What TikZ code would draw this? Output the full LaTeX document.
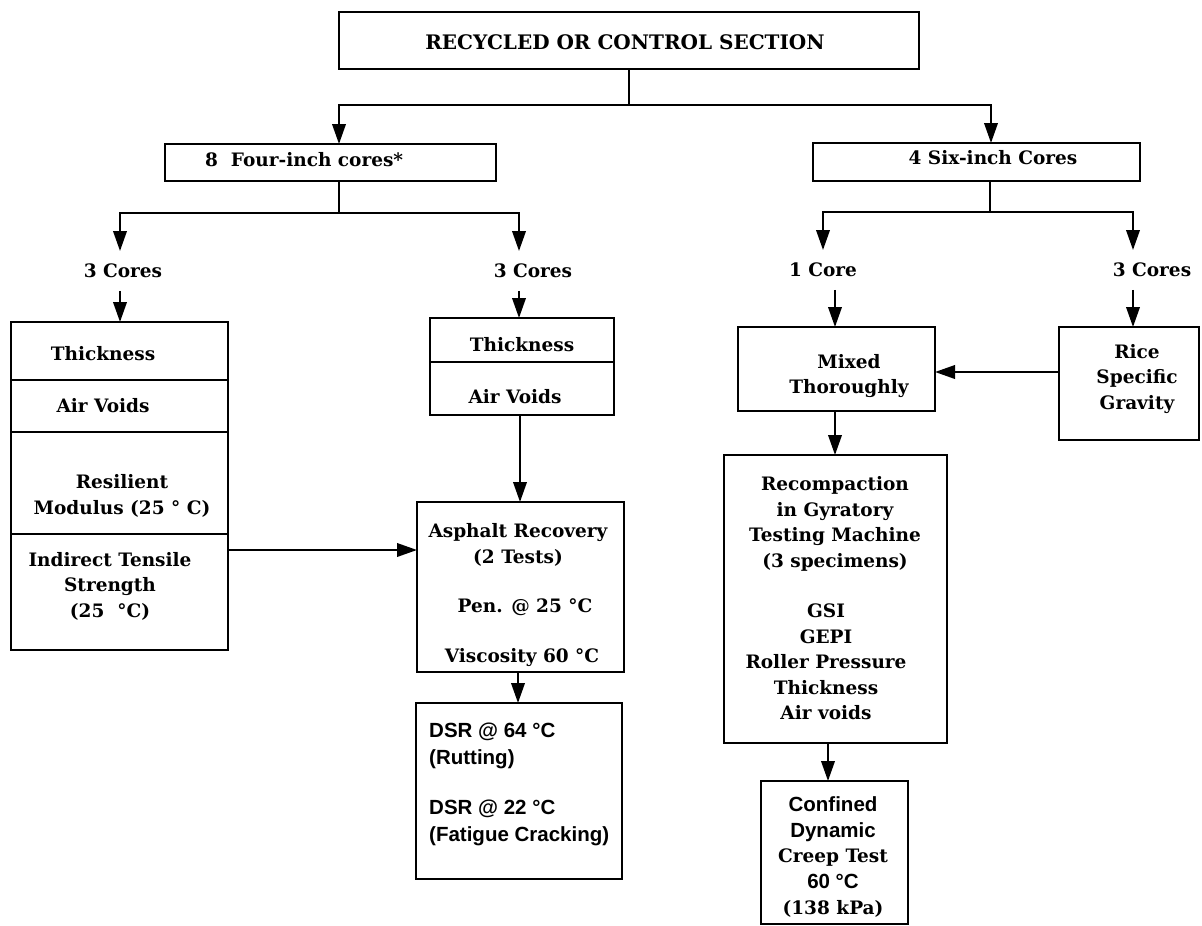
\documentclass[tikz,border=0pt]{standalone}
\usepackage{fontspec}
\setmainfont{DejaVu Serif}
\newfontfamily\sansf{Liberation Sans}
\usetikzlibrary{arrows.meta}
\begin{document}
\begin{tikzpicture}[x=1pt,y=-1pt,
  box/.style={draw,line width=2.1pt,inner sep=0pt,outer sep=0pt},
  ln/.style={line width=2.1pt},
  arr/.style={line width=2.1pt,-{Triangle[length=20pt,width=13.5pt]}},
  st/.style={font=\fontsize{18.5}{25.5}\selectfont\bfseries,align=center,inner sep=0pt},
  ss/.style={font=\sansf\bfseries\fontsize{20.5}{27}\selectfont,align=left,inner sep=0pt},
  lbl/.style={outer ysep=13pt},
]
\fill[white] (0,0) rectangle (1202,926);
\useasboundingbox (0,0) rectangle (1202,926);

% boxes
\node[box,minimum width=580pt,minimum height=57pt] (top) at (629,40.5) {};
\node[box,minimum width=331pt,minimum height=37pt] (four) at (330.5,162.5) {};
\node[box,minimum width=327pt,minimum height=38pt] (six) at (976.5,162) {};
\node[box,minimum width=217pt,minimum height=328pt] (lbox) at (119.5,486) {};
\node[box,minimum width=184pt,minimum height=97pt] (tbox) at (522,366.5) {};
\node[box,minimum width=207pt,minimum height=170pt] (asph) at (520.5,587) {};
\node[box,minimum width=206pt,minimum height=176pt] (dsr) at (519,791) {};
\node[box,minimum width=197pt,minimum height=84pt] (mix) at (836.5,369) {};
\node[box,minimum width=140pt,minimum height=113pt] (rice) at (1129,383.5) {};
\node[box,minimum width=223pt,minimum height=288pt] (reco) at (835.5,599) {};
\node[box,minimum width=147pt,minimum height=143pt] (conf) at (834.5,852.5) {};

% dividers
\draw[ln] (lbox.west |- 0,380) -- (lbox.east |- 0,380);
\draw[ln] (lbox.west |- 0,432) -- (lbox.east |- 0,432);
\draw[ln] (lbox.west |- 0,534) -- (lbox.east |- 0,534);
\draw[ln] (tbox.west |- 0,362) -- (tbox.east |- 0,362);

% texts
\node[st,font=\fontsize{20}{24}\selectfont\bfseries] (ttl) at (625,42) {RECYCLED OR CONTROL SECTION};
\node[st,anchor=west] (t4) at (205,160) {8\ \ Four-inch cores*};
\node[st] (t6) at (993,158) {4 Six-inch Cores};
\node[st,lbl] (c3a) at (123,271) {3 Cores};
\node[st,lbl] (c3b) at (533,271) {3 Cores};
\node[st,lbl] (c1) at (823,270) {1 Core};
\node[st,lbl] (c3c) at (1152,270) {3 Cores};

\node[st] (l1) at (103,354) {Thickness};
\node[st] (l2) at (103,406) {Air Voids};
\node[st] (l3) at (122,496) {Resilient\\Modulus (25 ° C)};
\node[st] (l4) at (110,586) {Indirect Tensile\\Strength\\(25\ \ °C)};

\node[st] (m1) at (522,345) {Thickness};
\node[st] (m2) at (515,397) {Air Voids};

\node[st] (a1) at (518,545) {Asphalt Recovery\\(2 Tests)};
\node[st] (a2) at (525,607) {Pen. @ 25 °C};
\node[st] (a3) at (522,658) {Viscosity 60 °C};

\node[ss,anchor=west] (d1) at (429,746) {DSR @ 64 °C\\(Rutting)};
\node[ss,anchor=west] (d2) at (429,823) {DSR @ 22 °C\\(Fatigue Cracking)};

\node[st] (x1) at (849,376) {Mixed\\Thoroughly};
\node[st] (r1) at (1137,379) {Rice\\Specific\\Gravity};
\node[st] (g1) at (835,524) {Recompaction\\in Gyratory\\Testing Machine\\(3 specimens)};
\node[st] (g2) at (826,662) {GSI\\GEPI\\Roller Pressure\\Thickness\\Air voids};
\node[st,font=\fontsize{18.5}{25.7}\selectfont\bfseries] (f1) at (833,857)
  {{\sansf\fontsize{20.5}{25.7}\selectfont Confined}\\{\sansf\fontsize{20.5}{25.7}\selectfont Dynamic}\\Creep Test\\{\sansf\fontsize{20.5}{25.7}\selectfont 60 °C}\\(138 kPa)};

% connectors
\coordinate (j1) at (629,105);
\draw[ln] (top) -- (j1);
\draw[arr] (j1) -| (four.north -| 339,0);
\draw[arr] (j1) -| (six.north -| 991,0);

\coordinate (j2) at (339,213);
\draw[ln] (four.south -| 339,0) -- (j2);
\draw[arr] (j2) -| (c3a.north -| 120,0);
\draw[arr] (j2) -| (c3b.north -| 519,0);
\draw[arr] (c3a.south -| 120,0) -- (lbox.north -| 120,0);
\draw[arr] (c3b.south -| 519,0) -- (tbox.north -| 519,0);

\coordinate (j3) at (990,212);
\draw[ln] (six.south -| 990,0) -- (j3);
\draw[arr] (j3) -| (c1.north -| 823,0);
\draw[arr] (j3) -| (c3c.north -| 1133,0);
\draw[arr] (c1.south -| 835,0) -- (mix.north -| 835,0);
\draw[arr] (c3c.south -| 1133,0) -- (rice.north -| 1133,0);
\draw[arr] (rice.west |- 0,372) -- (mix.east |- 0,372);
\draw[arr] (mix.south -| 835,0) -- (reco.north -| 835,0);
\draw[arr] (reco.south -| 828,0) -- (conf.north -| 828,0);
\draw[arr] (tbox.south -| 520,0) -- (asph.north -| 520,0);
\draw[arr] (lbox.east |- 0,550) -- (asph.west |- 0,550);
\draw[arr] (asph.south -| 518,0) -- (dsr.north -| 518,0);
\end{tikzpicture}
\end{document}
